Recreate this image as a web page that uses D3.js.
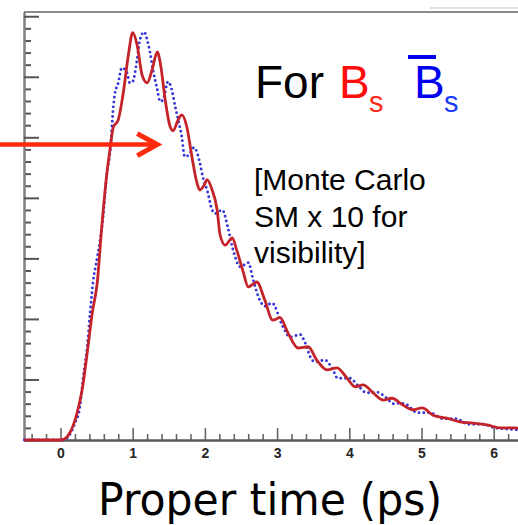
<!DOCTYPE html>
<html>
<head>
<meta charset="utf-8">
<script src="https://cdn.jsdelivr.net/npm/d3@7"></script>
<style>
  body { margin: 0; background: #fff; }
  svg { display: block; }
</style>
</head>
<body>
<svg id="chart" width="518" height="525"></svg>
<script>
// B_s curve (solid red): proper time (ps) and yield
const bsTime = [-0.5, 0.0, 0.06, 0.13, 0.23, 0.30, 0.37, 0.44, 0.51, 0.57, 0.64, 0.69, 0.73, 0.80, 0.87,
  0.94, 1.00, 1.06, 1.13, 1.20, 1.27, 1.34, 1.39, 1.45, 1.52, 1.56, 1.63, 1.68, 1.75, 1.82,
  1.89, 1.93, 1.99, 2.03, 2.10, 2.17, 2.21, 2.28, 2.38, 2.44, 2.53, 2.60, 2.72, 2.83, 2.94,
  3.04, 3.15, 3.29, 3.43, 3.55, 3.69, 3.83, 3.97, 4.08, 4.19, 4.33, 4.47, 4.59, 4.74, 4.88,
  5.01, 5.16, 5.35, 5.53, 5.71, 5.91, 6.09, 6.27, 6.50];
const bsYield = [0, 0, 2, 12, 45, 83, 144, 210, 261, 350, 438, 484, 516, 529, 574,
  636, 673, 653, 603, 590, 612, 641, 617, 562, 517, 511, 529, 537, 517, 468,
  425, 413, 421, 430, 413, 380, 339, 322, 334, 314, 278, 253, 261, 231, 198,
  202, 177, 152, 154, 132, 116, 119, 102, 88, 91, 78, 66, 69, 58, 50,
  53, 41, 36, 30, 28, 25, 20, 20, 17];

// anti-B_s curve (blue dots)
const bsbarTime = [-0.5, 0.02, 0.09, 0.20, 0.27, 0.31, 0.37, 0.41, 0.45, 0.51, 0.59, 0.64, 0.69, 0.73, 0.75,
  0.80, 0.85, 0.92, 0.96, 1.00, 1.06, 1.10, 1.16, 1.20, 1.24, 1.28, 1.34, 1.38, 1.42, 1.49,
  1.54, 1.59, 1.63, 1.68, 1.72, 1.78, 1.85, 1.93, 1.97, 2.03, 2.10, 2.14, 2.24, 2.32, 2.39,
  2.49, 2.60, 2.67, 2.76, 2.83, 2.93, 3.08, 3.18, 3.32, 3.39, 3.46, 3.52, 3.66, 3.76, 3.84,
  4.01, 4.11, 4.24, 4.38, 4.52, 4.61, 4.70, 4.80, 4.94, 5.12, 5.30, 5.49, 5.64, 5.84, 6.02,
  6.20, 6.50];
const bsbarYield = [0, 0, 3, 28, 55, 99, 154, 210, 260, 302, 369, 438, 479, 548, 570,
  590, 615, 607, 590, 592, 628, 661, 674, 661, 640, 612, 579, 559, 562, 592,
  579, 550, 529, 501, 468, 471, 483, 458, 435, 413, 380, 374, 380, 350, 314,
  286, 293, 264, 231, 221, 226, 187, 170, 174, 160, 137, 129, 132, 119, 102,
  102, 91, 78, 79, 69, 60, 61, 58, 45, 45, 35, 35, 26, 26, 20,
  18, 15];

const xTickLabels = [0, 1, 2, 3, 4, 5, 6];
const noteLines = ["[Monte Carlo", "SM x 10 for", "visibility]"];
const arrowFrom = [-0.9, 488];
const arrowTo = [1.34, 488];

const svg = d3.select("#chart");

const x = d3.scaleLinear().domain([-0.5, 6.5]).range([24.4, 529.8]);
const y = d3.scaleLinear().domain([0, 707]).range([440, 12]);

// frame: top border and left axis line
svg.append("line")
  .attr("x1", 24).attr("x2", 518).attr("y1", 12).attr("y2", 12)
  .attr("stroke", "#8a8a8a").attr("stroke-width", 2);
svg.append("line")
  .attr("x1", 430).attr("x2", 518).attr("y1", 8).attr("y2", 8)
  .attr("stroke", "#d6d6d6").attr("stroke-width", 1.5);

// Y axis (ticks only, labels cropped away)
const yMinor = d3.range(0, 707, 20).filter(v => v % 100 !== 0);
svg.append("g")
  .attr("transform", `translate(24,0)`)
  .call(d3.axisLeft(y).tickValues(yMinor).tickSize(-7).tickSizeOuter(0).tickFormat(""))
  .call(g => g.selectAll(".tick line").attr("stroke", "#555").attr("stroke-width", 2));
svg.append("g")
  .attr("transform", `translate(24,0)`)
  .call(d3.axisLeft(y).tickValues(d3.range(0, 701, 100)).tickSize(-15).tickSizeOuter(0).tickFormat(""))
  .call(g => g.selectAll(".tick line").attr("stroke", "#555").attr("stroke-width", 2))
  .call(g => g.select(".domain").attr("stroke", "#808080").attr("stroke-width", 2.5));

// X axis
const xMinor = d3.range(-0.4, 6.5, 0.2).filter(v => Math.abs(v - Math.round(v)) > 0.01);
svg.append("g")
  .attr("transform", `translate(0,440)`)
  .call(d3.axisBottom(x).tickValues(xMinor).tickSize(-6).tickSizeOuter(0).tickFormat(""))
  .call(g => g.select(".domain").remove())
  .call(g => g.selectAll(".tick line").attr("stroke", "#666").attr("stroke-width", 1.6));
svg.append("g")
  .attr("transform", `translate(0,440)`)
  .call(d3.axisBottom(x).tickValues(xTickLabels).tickSize(-12).tickSizeOuter(0).tickPadding(8).tickFormat(d3.format("d")))
  .call(g => g.select(".domain").attr("stroke", "#5a5a5a").attr("stroke-width", 2.5))
  .call(g => g.selectAll(".tick line").attr("stroke", "#666").attr("stroke-width", 1.6))
  .call(g => g.selectAll("text")
    .attr("fill", "#262626")
    .style("font-family", "'Liberation Sans', Arial, sans-serif")
    .style("font-size", "14px")
    .style("font-weight", "bold"));

// curves
const line = d3.line()
  .x(d => x(d[0]))
  .y(d => y(d[1]))
  .curve(d3.curveMonotoneX);

svg.append("path")
  .datum(d3.zip(bsbarTime, bsbarYield))
  .attr("d", line)
  .attr("fill", "none")
  .attr("stroke", "#3434d8")
  .attr("stroke-width", 2.9)
  .attr("stroke-linecap", "round")
  .attr("stroke-dasharray", "0 4.8");

svg.append("path")
  .datum(d3.zip(bsTime, bsYield))
  .attr("d", line)
  .attr("fill", "none")
  .attr("stroke", "#c4232a")
  .attr("stroke-width", 2.8)
  .attr("stroke-linejoin", "round");

// red arrow
const ax0 = x(arrowFrom[0]), ax1 = x(arrowTo[0]), ay = y(arrowTo[1]);
svg.append("line")
  .attr("x1", ax0).attr("x2", ax1 - 2).attr("y1", ay).attr("y2", ay)
  .attr("stroke", "#ff2a0c").attr("stroke-width", 4.5);
svg.append("path")
  .attr("d", `M${ax1 - 20},${ay - 11}L${ax1},${ay}L${ax1 - 20},${ay + 11}`)
  .attr("fill", "none")
  .attr("stroke", "#ff2a0c").attr("stroke-width", 5)
  .attr("stroke-linejoin", "miter");

// "For Bs Bs-bar"
const sans = "'Liberation Sans', Arial, sans-serif";
const title = svg.append("g").style("font-family", sans);
title.append("text").attr("x", 255).attr("y", 98).style("font-size", "46px").attr("fill", "#000").text("For");
title.append("text").attr("x", 339).attr("y", 98).style("font-size", "46px").attr("fill", "#ff0d0d").text("B");
title.append("text").attr("x", 369).attr("y", 112).style("font-size", "29px").attr("fill", "#ff2a1a").text("s");
title.append("text").attr("x", 414).attr("y", 98).style("font-size", "46px").attr("fill", "#0000f0").text("B");
title.append("text").attr("x", 444).attr("y", 112).style("font-size", "29px").attr("fill", "#1a3cff").text("s");
title.append("line")
  .attr("x1", 408).attr("x2", 436).attr("y1", 57).attr("y2", 57)
  .attr("stroke", "#0000f0").attr("stroke-width", 4);

// note text
svg.append("g")
  .selectAll("text")
  .data(noteLines)
  .enter()
  .append("text")
  .attr("x", 254)
  .attr("y", (d, i) => 190 + i * 36.5)
  .style("font-family", sans)
  .style("font-size", "30px")
  .attr("fill", "#000")
  .text(d => d);

// axis title
svg.append("text")
  .attr("x", 98)
  .attr("y", 515)
  .attr("textLength", 344)
  .attr("lengthAdjust", "spacingAndGlyphs")
  .style("font-family", "'DejaVu Sans', Verdana, sans-serif")
  .style("font-size", "44px")
  .attr("fill", "#000")
  .text("Proper time (ps)");
</script>
</body>
</html>
